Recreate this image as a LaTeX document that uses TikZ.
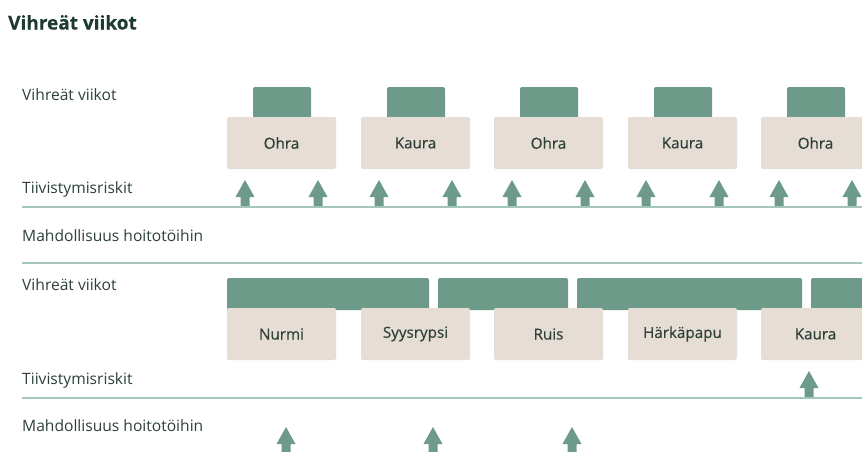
\documentclass[tikz,border=0pt]{standalone}
\usepackage{fontspec}
\setmainfont{Open Sans}
\definecolor{leaf}{HTML}{6E9A89}
\definecolor{sand}{HTML}{E6DDD5}
\definecolor{rule}{HTML}{A3C6B6}
\definecolor{ink}{HTML}{2E4139}
\definecolor{title}{HTML}{1D3B2E}
\tikzset{
  rowlabel/.style={anchor=base west, inner sep=0pt, text=ink, font=\fontsize{15.6}{18}\selectfont},
  cropbox/.style={fill=sand, rounded corners=2pt},
  cropname/.style={text=ink, font=\fontsize{15.2}{18}\selectfont\addfontfeature{FakeBold=0.35}},
  greenbar/.style={fill=leaf, rounded corners=2pt},
  divider/.style={draw=rule, line width=2pt},
  uparrow/.pic={\fill[leaf] (-4.5,0) -- (-4.5,-10) -- (-9.5,-10) -- (0,-27) -- (9.5,-10) -- (4.5,-10) -- (4.5,0) -- cycle;}
}
\begin{document}
\begin{tikzpicture}[x=1pt,y=-1pt]
\useasboundingbox (0,0) rectangle (862,451);
\fill[white] (0,0) rectangle (862,451);
\begin{scope}
\clip (0,0) rectangle (862,451);

% heading
\node[anchor=base west, inner sep=0pt, text=title, font=\fontsize{19}{22}\selectfont\bfseries\addfontfeature{FakeBold=0.4}] (head) at (8,29.5) {Vihreät viikot};

% ---- first rotation: short green weeks ----
\node[rowlabel] (l1) at (22,100) {Vihreät viikot};
\node[rowlabel] (l2) at (22,193) {Tiivistymisriskit};
\node[rowlabel] (l3) at (22,241) {Mahdollisuus hoitotöihin};

\foreach \x/\crop [count=\i] in {227/Ohra,361/Kaura,494/Ohra,628/Kaura,761/Ohra}{
  \fill[greenbar] (\x+26,87) rectangle (\x+84,119);
  \fill[cropbox] (\x,117) rectangle (\x+109,169);
  \node[cropname] (a\i) at (\x+54.5,143) {\crop};
  \pic at (\x+18,207) {uparrow};
  \pic at (\x+91,207) {uparrow};
}
\draw[divider] (22,207) -- (862,207);
\draw[divider] (22,262.5) -- (862,262.5);

% ---- second rotation: long green cover ----
\node[rowlabel] (l4) at (22,290) {Vihreät viikot};
\node[rowlabel] (l5) at (22,384) {Tiivistymisriskit};
\node[rowlabel] (l6) at (22,431) {Mahdollisuus hoitotöihin};

\fill[greenbar] (227,278) rectangle (429,310);
\fill[greenbar] (438,278) rectangle (568,310);
\fill[greenbar] (577,278) rectangle (802,310);
\fill[greenbar] (811,278) rectangle (880,310);

\foreach \x/\crop [count=\i] in {227/Nurmi,361/Syysrypsi,494/Ruis,628/Härkäpapu,761/Kaura}{
  \fill[cropbox] (\x,308) rectangle (\x+109,360);
  \node[cropname] (b\i) at (\x+54.5,334) {\crop};
}
\pic at (809,398) {uparrow};
\draw[divider] (22,398) -- (862,398);

\pic at (286,454) {uparrow};
\pic at (433,454) {uparrow};
\pic at (572,454) {uparrow};
\end{scope}
\end{tikzpicture}
\end{document}
